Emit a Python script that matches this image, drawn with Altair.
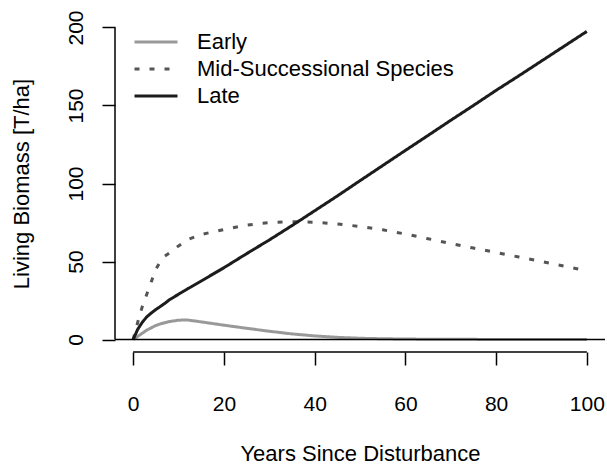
import altair as alt
import pandas as pd

# Biomass trajectories after disturbance, by successional group
years = [0, 1, 2, 3, 4, 5, 6, 7, 8, 10, 12, 15, 20, 25, 30, 35, 40, 45, 50,
         55, 60, 65, 70, 75, 80, 85, 90, 95, 100]
early = [0, 2, 4, 6, 7.5, 9, 10, 10.8, 11.5, 12.4, 12.5, 11.3, 9.2, 7.2, 5.3,
         3.6, 2.3, 1.4, 0.8, 0.5, 0.3, 0.2, 0.1, 0.1, 0.05, 0, 0, 0, 0]
mid = [0, 11, 21, 29, 37, 45, 50, 53.5, 55.5, 60, 64, 67.3, 70.5, 73.3, 75,
       75.5, 75.2, 74, 72.5, 70.3, 67.6, 64.6, 61.5, 58.6, 55.8, 52.9, 50, 47, 44]
late = [0, 6.5, 11, 14.5, 17, 19.2, 21.2, 23.2, 25.5, 29, 32.5, 37.5, 46, 55,
        63.8, 73, 82.5, 92, 101.8, 111.5, 121.2, 130.8, 140.5, 150, 159.7,
        169, 178.5, 188, 197.5]

groups = ["Early", "Mid-Successional Species", "Late"]
colors = ["#999999", "#555555", "#1c1c1c"]
dashes = [[1, 0], [5, 10], [1, 0]]

x_ticks = [0, 20, 40, 60, 80, 100]
y_ticks = [0, 50, 100, 150, 200]

rows = []
for name, vals in zip(groups, [early, mid, late]):
    for yr, v in zip(years, vals):
        rows.append({"year": yr, "biomass": v, "group": name})
df = pd.DataFrame(rows)

FONT = "Liberation Sans"

x_scale = alt.Scale(domain=[-4, 104], nice=False, zero=False)
y_scale = alt.Scale(domain=[-8, 208], nice=False, zero=False)

x_axis = alt.Axis(
    values=x_ticks, title="Years Since Disturbance", domain=False, grid=False,
    tickSize=13, tickWidth=1.5, tickColor="black", labelFontSize=21,
    labelFont=FONT, labelColor="black", labelBaseline="alphabetic",
    labelPadding=45, labelAngle=0, titleFont=FONT, titleFontSize=22,
    titleFontWeight="normal", titleColor="black", titleBaseline="alphabetic",
    titleX=245, titleY=108, titleAlign="center",
)
y_axis = alt.Axis(
    values=y_ticks, title="Living Biomass [T/ha]", domain=False, grid=False,
    tickSize=13, tickWidth=1.5, tickColor="black", labelFontSize=21,
    labelFont=FONT, labelColor="black", labelAngle=270, labelAlign="center",
    labelBaseline="alphabetic", labelPadding=20, titleFont=FONT,
    titleFontSize=22, titleFontWeight="normal", titleColor="black",
    titleAngle=270, titleBaseline="alphabetic", titleAlign="center",
    titleX=-87, titleY=168.5,
)

lines = alt.Chart(df).mark_line(strokeWidth=3, strokeCap="butt").encode(
    x=alt.X("year:Q", scale=x_scale, axis=x_axis),
    y=alt.Y("biomass:Q", scale=y_scale, axis=y_axis),
    color=alt.Color("group:N", scale=alt.Scale(domain=groups, range=colors),
                    legend=alt.Legend(
                        title=None, orient="none", legendX=18, legendY=13.5,
                        symbolType="stroke", symbolSize=1849,
                        symbolStrokeWidth=3, clipHeight=27, rowPadding=0,
                        padding=0, labelFontSize=22, labelFont=FONT,
                        labelColor="black", labelOffset=18, labelLimit=500)),
    strokeDash=alt.StrokeDash("group:N",
                              scale=alt.Scale(domain=groups, range=dashes),
                              legend=None),
    detail="group:N",
)

# Axis lines spanning the tick range, plus the zero reference line
x_line = alt.Chart(pd.DataFrame({"a": [0]})).mark_rule(
    color="black", strokeWidth=1.5).encode(
    x=alt.datum(0, scale=x_scale), x2=alt.datum(100), y=alt.datum(-8, scale=y_scale))
y_line = alt.Chart(pd.DataFrame({"a": [0]})).mark_rule(
    color="black", strokeWidth=1.5).encode(
    y=alt.datum(0, scale=y_scale), y2=alt.datum(200), x=alt.datum(-4, scale=x_scale))
zero_line = alt.Chart(pd.DataFrame({"a": [0]})).mark_rule(
    color="black", strokeWidth=1.5).encode(
    x=alt.datum(-4, scale=x_scale), x2=alt.datum(104), y=alt.datum(0, scale=y_scale))

chart = alt.layer(lines, zero_line, x_line, y_line).properties(
    width=490, height=337,
    autosize=alt.AutoSizeParams(type="none"),
    padding={"left": 115, "top": 15, "right": 2, "bottom": 114},
    background="white",
).configure_view(stroke=None)

chart.save("out.html", embed_options={"renderer": "svg", "actions": False})
